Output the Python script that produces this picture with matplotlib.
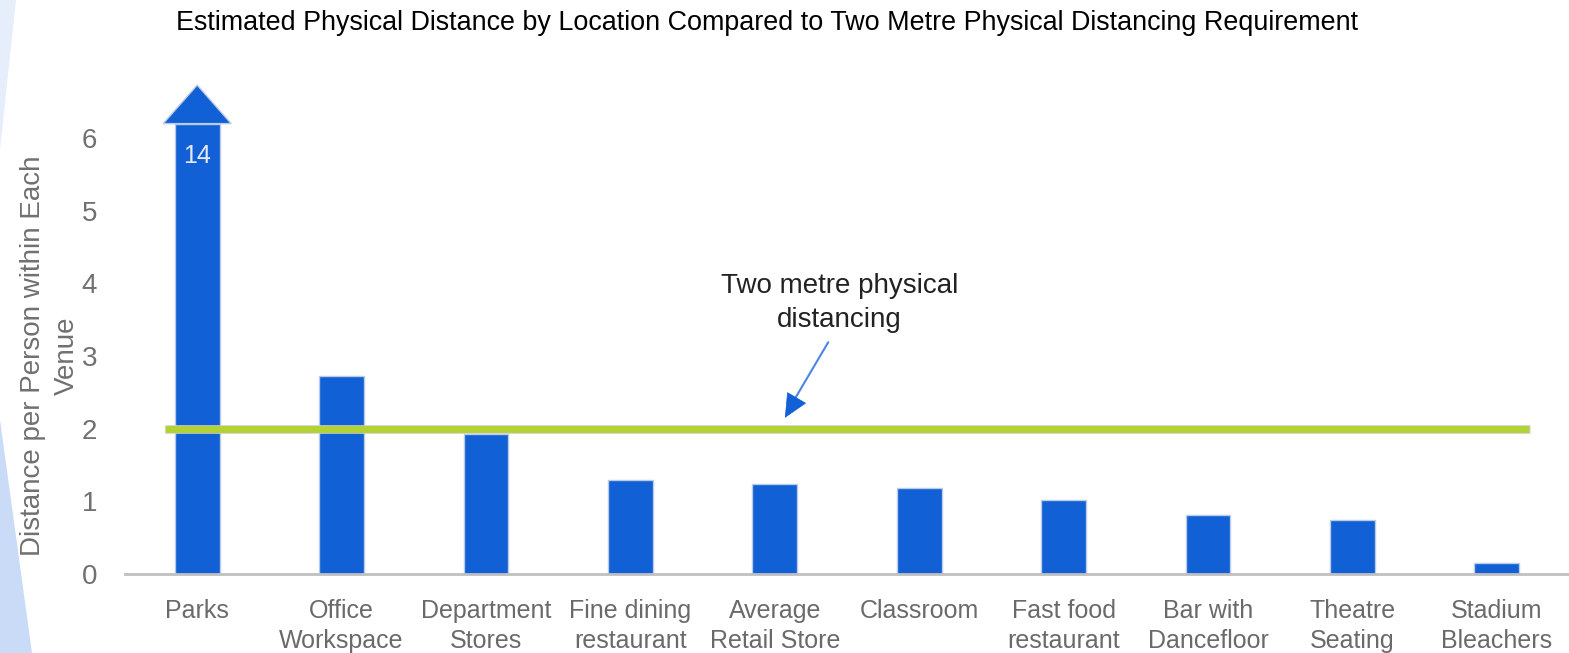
import matplotlib
matplotlib.use("Agg")
import matplotlib.pyplot as plt
from matplotlib.patches import Polygon

# ---- data ----
categories = ["Parks", "Office\nWorkspace", "Department\nStores", "Fine dining\nrestaurant",
              "Average\nRetail Store", "Classroom", "Fast food\nrestaurant", "Bar with\nDancefloor",
              "Theatre\nSeating", "Stadium\nBleachers"]
values = [14, 2.72, 1.93, 1.29, 1.24, 1.18, 1.02, 0.81, 0.74, 0.15]
yticks = [0, 1, 2, 3, 4, 5, 6]
requirement = 2
title = "Estimated Physical Distance by Location Compared to Two Metre Physical Distancing Requirement"
ylabel = "Distance per Person within Each\nVenue"
annot_text = "Two metre physical\ndistancing"

# ---- style ----
plt.rcParams['font.family'] = ['Liberation Sans', 'DejaVu Sans']
BLUE = "#1160d5"
GREEN = "#b3d335"
W, H = 1569, 653
fig = plt.figure(figsize=(W / 100, H / 100), dpi=100)

# background decoration (light blue wedges at left edge)
fig.patches.append(Polygon([(0, 1), (16 / W, 1), (0, 1 - 150 / H)], closed=True,
                           transform=fig.transFigure, facecolor="#e6eefb", edgecolor="none", zorder=0))
fig.patches.append(Polygon([(0, 1 - 420 / H), (32 / W, 0), (0, 0)], closed=True,
                           transform=fig.transFigure, facecolor="#c9dbf6", edgecolor="none", zorder=0))

ax = fig.add_axes([125 / W, (H - 574) / H, 1444 / W, (574 - 80) / H])
ax.set_facecolor("none")
ymax = 6.8
cap = 6.2
ax.set_xlim(-0.5, len(categories) - 0.5)
ax.set_ylim(0, ymax)

x = list(range(len(categories)))
shown = [min(v, cap) for v in values]
bw = 0.31
ax.bar(x, shown, width=bw, color=BLUE, edgecolor="#b9cbe6", linewidth=1.0, zorder=2)

# arrow head for the bar exceeding the axis range
for xi, v in zip(x, values):
    if v > cap:
        head = Polygon([(xi - 0.235, cap), (xi + 0.235, cap), (xi, 6.73)], closed=True,
                       facecolor=BLUE, edgecolor="#b9cbe6", linewidth=1.0, zorder=2, clip_on=False)
        ax.add_patch(head)
        ax.text(xi, 5.75, f"{v:g}", ha="center", va="center", color="#e4e8f0", fontsize=18, zorder=3)

# requirement line
ax.plot([-0.222, 9.23], [requirement, requirement], color="#cfcfcf", linewidth=6.2,
        solid_capstyle="butt", zorder=3)
ax.plot([-0.222, 9.225], [requirement, requirement], color=GREEN, linewidth=5.0,
        solid_capstyle="butt", zorder=4)

# annotation arrow: thin light-blue shaft, solid dark-blue head
ax.annotate("", xy=(4.10, 2.28), xytext=(4.37, 3.19),
            arrowprops=dict(arrowstyle="-", color="#4a86e8", lw=1.5, shrinkA=0, shrinkB=0), zorder=5)
ax.annotate("", xy=(4.07, 2.15), xytext=(4.12, 2.32),
            arrowprops=dict(arrowstyle="-|>,head_length=1.6,head_width=0.75", color=BLUE,
                            lw=0.5, shrinkA=0, shrinkB=0), zorder=6)
ax.text(4.446, 3.73, annot_text, ha="center", va="center", fontsize=20, color="#222222",
        linespacing=1.38)

# axes styling
for s in ["top", "right", "left"]:
    ax.spines[s].set_visible(False)
ax.spines["bottom"].set_color("#c0c0c0")
ax.spines["bottom"].set_linewidth(2)
ax.set_yticks(yticks)
ax.set_yticklabels([str(t) for t in yticks])
ax.set_xticks(x)
ax.set_xticklabels(categories)
ax.tick_params(axis="y", length=0, pad=20, labelsize=20, labelcolor="#707070")
ax.tick_params(axis="x", length=0, pad=18, labelsize=18, labelcolor="#6a6a6a")
for lab in ax.get_xticklabels():
    lab.set_linespacing(1.3)

fig.text(767 / W, 1 - 23 / H, title, ha="center", va="center", fontsize=19.4, color="#000000")
fig.text(50 / W, 1 - 356 / H, ylabel, ha="center", va="center", rotation=90, fontsize=20,
         color="#707070", linespacing=1.35)

fig.savefig("out.png", dpi=100)
